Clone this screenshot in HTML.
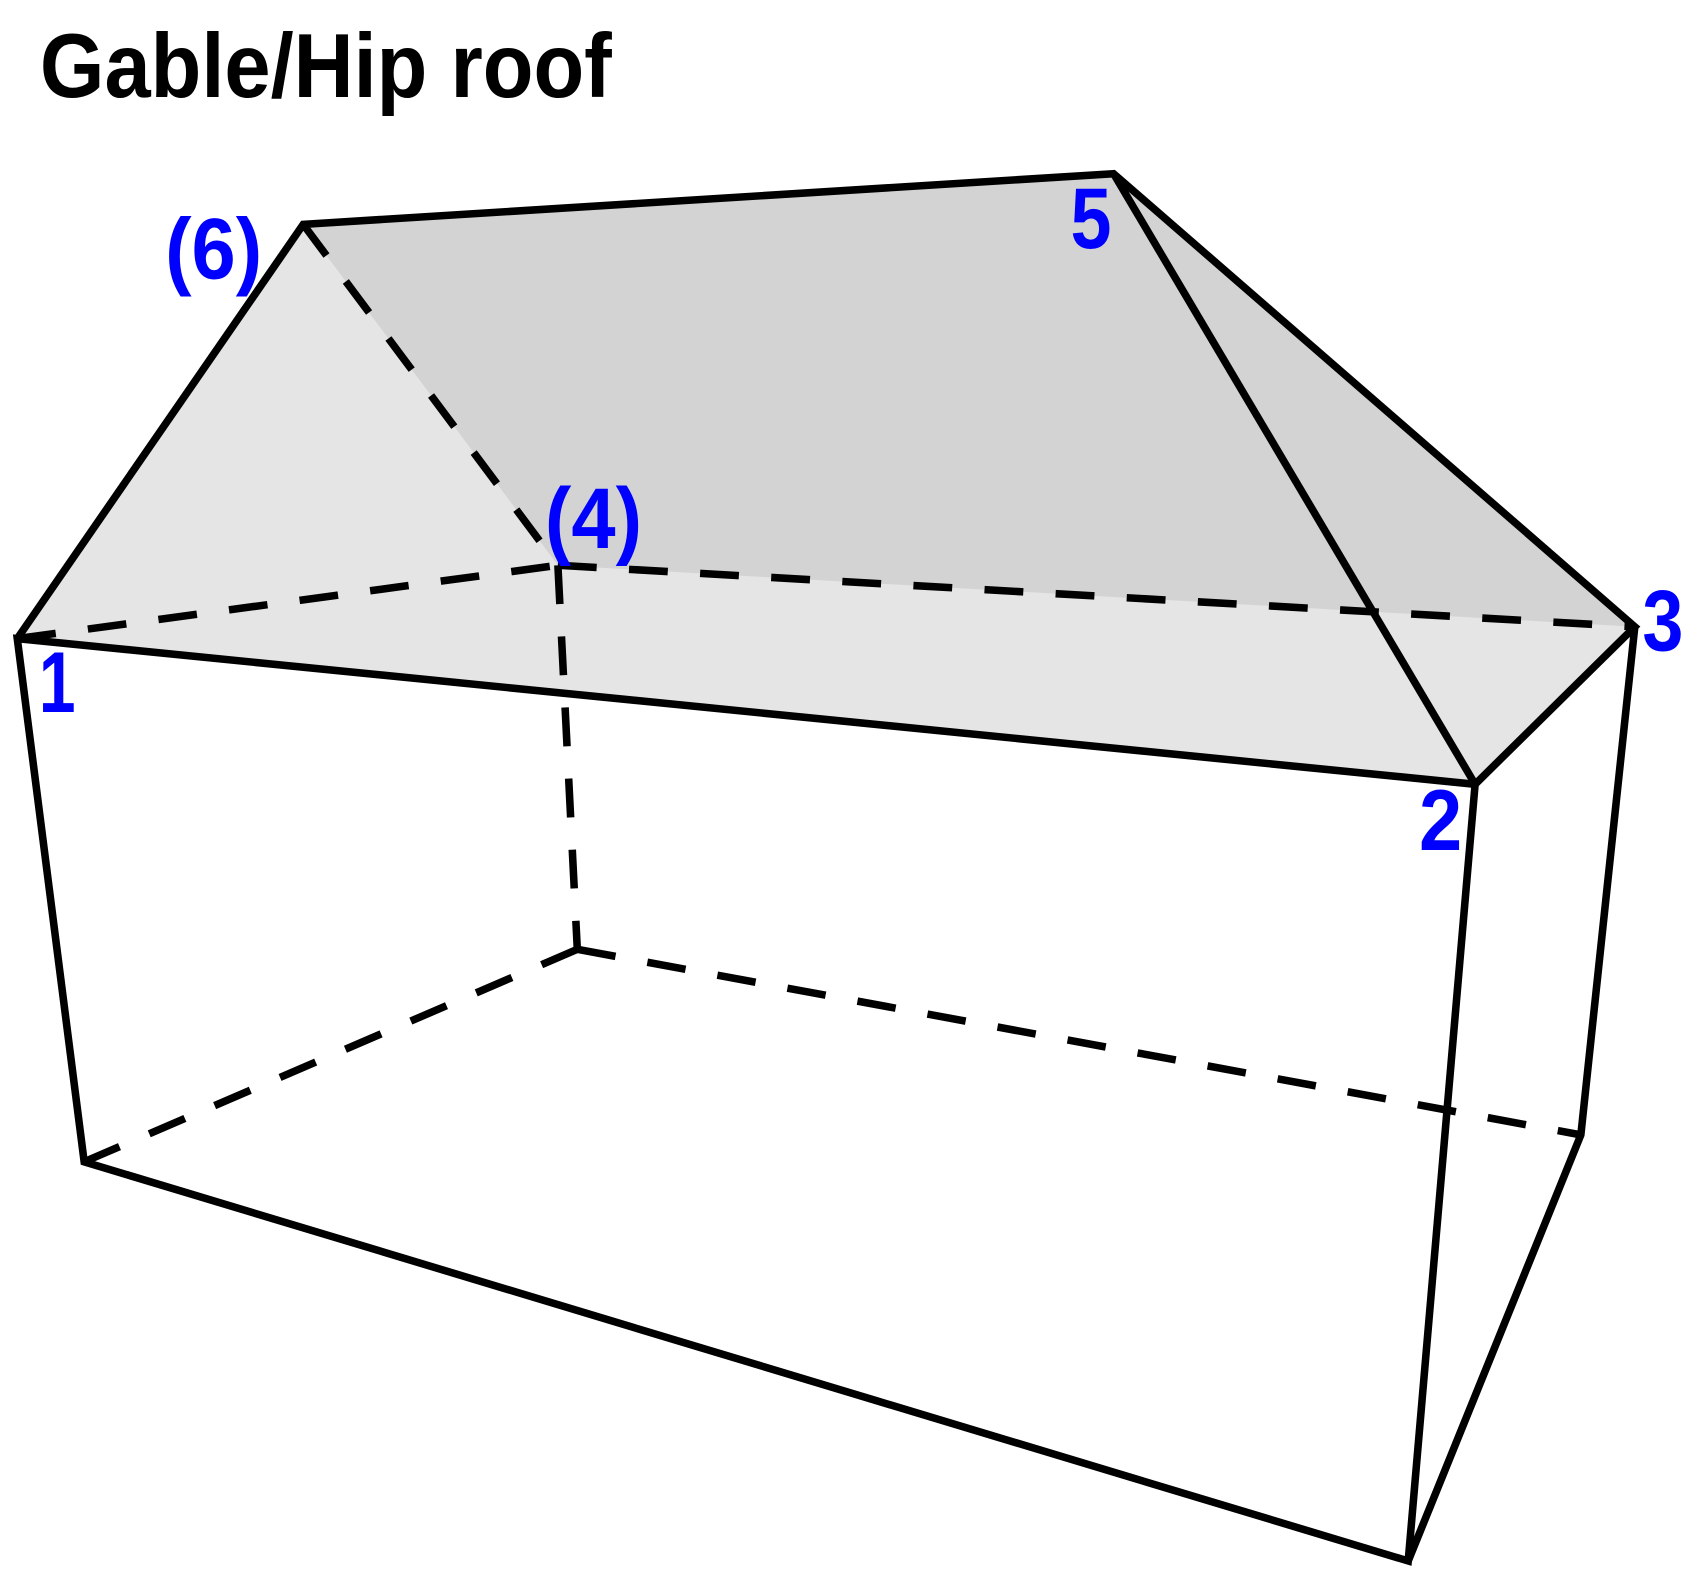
<!DOCTYPE html>
<html><head><meta charset="utf-8"><style>html,body{margin:0;padding:0;background:#fff;}svg{display:block;}</style></head>
<body>
<svg width="1692" height="1575" viewBox="0 0 1568 1460" preserveAspectRatio="none" xmlns="http://www.w3.org/2000/svg">
<polygon points="16,592 281,208 1032,161 1515,581 1367,727" fill="#e5e5e5"/>
<polygon points="281,208 1032,161 1515,581 517,524" fill="#d3d3d3"/>
<g stroke="#000" stroke-width="7" fill="none" stroke-dasharray="36,30">
<line x1="281" y1="208" x2="517" y2="524"/>
<line x1="16" y1="592" x2="517" y2="524"/>
<line x1="517" y1="524" x2="1515" y2="581"/>
<line x1="517" y1="524" x2="535" y2="880"/>
<line x1="535" y1="880" x2="78" y2="1077"/>
<line x1="535" y1="880" x2="1465" y2="1052"/>
</g>
<g stroke="#000" stroke-width="7" fill="none" stroke-linejoin="miter">
<polyline points="16,592 281,208 1032,161 1515,581 1367,727 16,592 78,1077 1305,1447 1367,727"/>
<line x1="1032" y1="161" x2="1367" y2="727"/>
<polyline points="1305,1447 1465,1052 1515,581"/>
</g>
<text x="37" y="90" font-family="Liberation Sans, sans-serif" font-weight="bold" font-size="84" textLength="530" lengthAdjust="spacingAndGlyphs">Gable/Hip roof</text>
<g font-family="Liberation Sans, sans-serif" font-weight="bold" font-size="80" fill="#0000ff">
<text x="36" y="660" textLength="34" lengthAdjust="spacingAndGlyphs">1</text>
<text x="1315" y="788" textLength="40" lengthAdjust="spacingAndGlyphs">2</text>
<text x="1522" y="603" textLength="38" lengthAdjust="spacingAndGlyphs">3</text>
<text x="505" y="508" textLength="90" lengthAdjust="spacingAndGlyphs">(4)</text>
<text x="992" y="230" textLength="38" lengthAdjust="spacingAndGlyphs">5</text>
<text x="153" y="258" textLength="90" lengthAdjust="spacingAndGlyphs">(6)</text>
</g>
</svg>
</body></html>
